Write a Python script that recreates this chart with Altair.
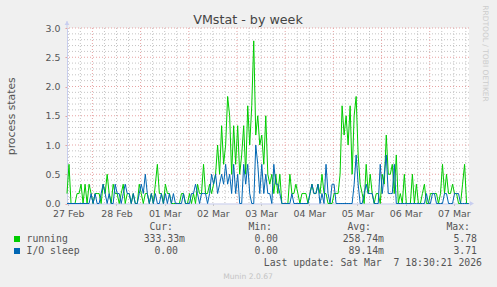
import altair as alt
import pandas as pd

# ---------------- data ----------------
running = [
    0.17, 0.67, 0, 0, 0, 0.17, 0.17, 0.33, 0, 0.33,
    0, 0.33, 0.17, 0, 0.17, 0.17, 0.17, 0, 0.33, 0.17,
    0.5, 0.17, 0, 0.33, 0.17, 0.17, 0, 0.17, 0.33, 0,
    0.17, 0.17, 0, 0.17, 0, 0, 0.33, 0.17, 0, 0.17,
    0.17, 0, 0.17, 0, 0.33, 0.67, 0.17, 0.17, 0, 0.33,
    0.17, 0.17, 0, 0, 0, 0, 0, 0.17, 0.17, 0,
    0, 0.17, 0, 0.17, 0, 0.33, 0.17, 0.17, 0.67, 0.17,
    0.17, 0.33, 0.17, 0.33, 0.5, 1.0, 0.5, 1.33, 0.67, 1.0,
    1.83, 1.5, 0.5, 1.33, 0.67, 1.33, 0.5, 0.83, 1.33, 0.5,
    1.67, 1.0, 1.67, 2.78, 1.17, 1.5, 1.0, 1.17, 0.67, 1.5,
    0.5, 0.33, 0.5, 0.17, 0.5, 0.17, 0.5, 0, 0, 0,
    0, 0.5, 0.17, 0.17, 0.33, 0.17, 0, 0.17, 0.17, 0.17,
    0, 0.17, 0.33, 0.17, 0.17, 0.33, 0.17, 0.5, 0.17, 0.17,
    0, 0, 0, 0.17, 0.17, 0.17, 0.5, 1.67, 1.17, 1.5,
    1.0, 1.67, 0.5, 1.5, 1.83, 0.83, 0.33, 0.17, 0, 0.67,
    0.17, 0.5, 0.17, 0, 0.17, 0.17, 0, 0.5, 0.33, 1.17,
    0.5, 0.5, 0.67, 0.17, 0.83, 0, 0.17, 0, 0.5, 0,
    0, 0, 0.5, 0, 0.33, 0, 0, 0.17, 0.33, 0,
    0, 0.17, 0.17, 0.17, 0.17, 0, 0.17, 0.67, 0.17, 0.5,
    0.17, 0.17, 0.33, 0.17, 0.17, 0, 0, 0.33, 0.67, 0,
    0,
]
io_sleep = [
    0, 0, 0, 0, 0, 0, 0, 0, 0, 0,
    0, 0, 0.17, 0, 0.17, 0, 0, 0.17, 0.33, 0.17,
    0, 0.17, 0, 0, 0.33, 0.17, 0.17, 0, 0.17, 0.33,
    0.17, 0.17, 0, 0.17, 0, 0, 0.17, 0.33, 0.17, 0.5,
    0.17, 0, 0.17, 0, 0.17, 0, 0, 0.17, 0, 0.17,
    0, 0.17, 0, 0.17, 0, 0, 0, 0, 0.17, 0,
    0, 0, 0.17, 0.17, 0.33, 0.17, 0, 0.17, 0.17, 0.17,
    0, 0.17, 0.5, 0.33, 0.5, 0.17, 0.33, 0.5, 0.33, 0.67,
    0.33, 0.5, 0.17, 0.67, 0.17, 0.5, 0, 0, 0.67, 0.33,
    0.67, 0.17, 0, 0, 1.0, 0.67, 0.17, 0.67, 0.17, 0.5,
    0.17, 0.17, 0, 0.67, 0.33, 0.33, 0.17, 0, 0, 0,
    0, 0, 0.17, 0, 0, 0, 0, 0, 0, 0,
    0, 0.17, 0.33, 0.17, 0.17, 0.33, 0, 0.17, 0, 0.67,
    0.17, 0, 0.33, 0.33, 0, 0, 0, 0, 0, 0,
    0, 0, 0, 0.33, 0.83, 0.33, 0, 0, 0.17, 0.33,
    0.17, 0.17, 0.17, 0, 0, 0, 0.67, 0.17, 0.5, 0.83,
    0.17, 0.17, 0.17, 0.67, 0, 0, 0, 0, 0, 0,
    0, 0, 0, 0, 0, 0, 0, 0, 0, 0.17,
    0, 0, 0.17, 0.17, 0, 0, 0, 0, 0.17, 0.17,
    0, 0, 0, 0.17, 0.17, 0.17, 0, 0, 0, 0,
    0,
]
# time axis: hours since 27 Feb 00:00, one sample per hour
start_hour = 11.35
end_hour = 211.55
hours = [start_hour + i for i in range(len(running))]

day_labels = ["27 Feb", "28 Feb", "01 Mar", "02 Mar", "03 Mar",
              "04 Mar", "05 Mar", "06 Mar", "07 Mar"]
day_label_hours = [12 + 24 * k for k in range(len(day_labels))]

series_names = ["running", "I/O sleep"]
series_colors = ["#00CC00", "#0066B3"]
cur_vals = ["333.33m", "0.00"]
min_vals = ["0.00", "0.00"]
avg_vals = ["258.74m", "89.14m"]
max_vals = ["5.78", "3.71"]
last_update = "Last update: Sat Mar \u00a07 18:30:21 2026"

y_ticks = [0.0, 0.5, 1.0, 1.5, 2.0, 2.5, 3.0]

# ---------------- layout ----------------
W, H = 402, 175.5
OX, OY = 67, 28  # plot origin in page pixels

df_run = pd.DataFrame({"t": hours, "v": running})
df_io = pd.DataFrame({"t": hours, "v": io_sleep})

minor_v = [12 + 6 * k for k in range(34) if (12 + 6 * k) % 24 != 0]
major_v = [24 * k for k in range(1, 9)]
minor_h = [round(0.1 * k, 1) for k in range(1, 30) if k % 5 != 0]
major_h = [0.5, 1.0, 1.5, 2.0, 2.5, 3.0]

xs = alt.Scale(domain=[start_hour, end_hour], nice=False, zero=False)
ys = alt.Scale(domain=[0, 3.0], nice=False, zero=True)

GRID_GRAY = "#C4C4C4"
GRID_RED = "#E7A3A3"
AXIS_COL = "#C8CEF0"
TXT = "#555555"

label_expr = "[" + ",".join("'%s'" % s for s in day_labels) + "][round((datum.value-12)/24)]"

x_axis = alt.Axis(
    values=day_label_hours, labelExpr=label_expr, title=None, grid=False,
    domainColor=AXIS_COL, domainWidth=1, ticks=True, tickColor=GRID_GRAY, tickSize=2,
    labelPadding=4, labelFont="DejaVu Sans", labelFontSize=9.4, labelColor=TXT,
    labelFlush=False, labelOverlap=False,
)
y_axis = alt.Axis(
    values=y_ticks, format=".1f", title="process states", grid=False,
    domainColor=AXIS_COL, domainWidth=1, ticks=True, tickColor=GRID_RED, tickSize=2,
    labelPadding=5, labelFont="DejaVu Sans", labelFontSize=9.4, labelColor=TXT,
    titleFont="DejaVu Sans", titleFontSize=10.8, titleColor=TXT, titleFontWeight="normal",
    titlePadding=29, labelFlush=False,
)

X = alt.X("t:Q", scale=xs, axis=x_axis)
Y = alt.Y("v:Q", scale=ys, axis=y_axis)

vminor = alt.Chart(pd.DataFrame({"t": minor_v})).mark_rule(
    color=GRID_GRAY, strokeDash=[1, 2], strokeWidth=1).encode(x=X)
vmajor = alt.Chart(pd.DataFrame({"t": major_v})).mark_rule(
    color=GRID_RED, strokeDash=[1, 2], strokeWidth=1).encode(x=X)
hminor = alt.Chart(pd.DataFrame({"v": minor_h})).mark_rule(
    color=GRID_GRAY, strokeDash=[1, 2], strokeWidth=1).encode(y=Y)
hmajor = alt.Chart(pd.DataFrame({"v": major_h})).mark_rule(
    color=GRID_RED, strokeDash=[1, 2], strokeWidth=1).encode(y=Y)

line_run = alt.Chart(df_run).mark_line(color=series_colors[0], strokeWidth=1).encode(x=X, y=Y)
line_io = alt.Chart(df_io).mark_line(color=series_colors[1], strokeWidth=1).encode(x=X, y=Y)

one = pd.DataFrame({"k": [0]})


def text(s, px, py, align="left", size=9.8, color=TXT, font="DejaVu Sans Mono",
         angle=0, baseline="alphabetic"):
    return alt.Chart(one).mark_text(
        text=s, align=align, baseline=baseline, fontSize=size, color=color,
        font=font, angle=angle,
    ).encode(x=alt.value(px - OX), y=alt.value(py - OY))


def box(x1, y1, x2, y2, color):
    return alt.Chart(one).mark_rect(color=color).encode(
        x=alt.value(x1 - OX), x2=alt.value(x2 - OX),
        y=alt.value(y1 - OY), y2=alt.value(y2 - OY),
    )


layers = [vminor, vmajor, hminor, hmajor, line_run, line_io]

# axis arrows
layers.append(alt.Chart(one).mark_rule(color=AXIS_COL).encode(
    x=alt.value(0), y=alt.value(-7), y2=alt.value(0)))
layers.append(alt.Chart(one).mark_point(shape="triangle-up", filled=True, color=AXIS_COL,
                                         size=22, opacity=1).encode(
    x=alt.value(0), y=alt.value(-5)))
layers.append(alt.Chart(one).mark_rule(color=AXIS_COL).encode(
    x=alt.value(W), x2=alt.value(W + 3), y=alt.value(H)))
layers.append(alt.Chart(one).mark_point(shape="triangle-right", filled=True, color=AXIS_COL,
                                         size=22, opacity=1).encode(
    x=alt.value(W + 3), y=alt.value(H)))

# title and side texts
layers.append(text("VMstat - by week", 248, 24, align="center", size=12.7,
                   color="#444444", font="DejaVu Sans"))
layers.append(text("RRDTOOL / TOBI OETIKER", 485, 53.5, align="center", size=7.5,
                   color="#CCCCCC", font="DejaVu Sans", angle=90, baseline="middle"))

# legend table
headers = ["Cur:", "Min:", "Avg:", "Max:"]
header_right = [173, 272, 371, 470]
for h, xr in zip(headers, header_right):
    layers.append(text(h, xr, 230, align="right"))

row_base = [242, 254]
unit_right = [185, 278, 384, 477]
for r in range(2):
    yb = row_base[r]
    layers.append(box(14, yb - 6, 20, yb, series_colors[r]))
    layers.append(text(series_names[r], 26.5, yb))
    for col, vals in enumerate([cur_vals, min_vals, avg_vals, max_vals]):
        v = vals[r]
        xr = unit_right[col] if (v.endswith("m") or col > 0) else 178
        layers.append(text(v, xr, yb, align="right"))

layers.append(text(last_update, 482, 266, align="right"))
layers.append(text("Munin 2.0.67", 248, 279, align="center", size=7.6,
                   color="#C4C4C4", font="DejaVu Sans"))

chart = alt.layer(*layers).properties(
    width=W, height=H,
    autosize=alt.AutoSizeParams(type="none"),
    padding={"left": OX, "top": OY, "right": 497 - OX - W, "bottom": 287 - OY - H},
    background="#F0F0F0",
).configure_view(fill="white", stroke=None)

chart.save("out.html", embed_options={"renderer": "svg", "actions": False})
